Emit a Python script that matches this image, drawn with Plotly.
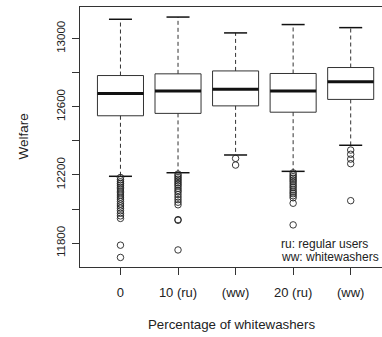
import plotly.graph_objects as go

# Welfare distribution per whitewasher scenario
categories = ["0", "10 (ru)", "(ww)", "20 (ru)", "(ww)"]
upper_whisker = [13113, 13126, 13033, 13082, 13064]
q3 = [12783, 12793, 12810, 12795, 12830]
median = [12678, 12693, 12703, 12693, 12746]
q1 = [12547, 12561, 12605, 12568, 12643]
lower_whisker = [12192, 12213, 12317, 12221, 12374]

outliers = [
    [12185, 12172, 12160, 12150, 12140, 12128, 12118, 12105, 12095, 12082,
     12070, 12058, 12045, 12030, 12018, 12005, 11990, 11975, 11960, 11945,
     11788, 11716],
    [12205, 12195, 12185, 12175, 12165, 12155, 12145, 12135, 12122, 12110,
     12100, 12085, 12070, 12055, 12040, 12025, 11938, 11934, 11760],
    [12297, 12258],
    [12212, 12200, 12190, 12180, 12170, 12160, 12148, 12136, 12125, 12112,
     12100, 12090, 12078, 12066, 12034, 11907],
    [12346, 12321, 12293, 12266, 12049],
]

y_ticks = [11800, 12000, 12200, 12400, 12600, 12800, 13000]
y_tick_text = ["11800", "", "12200", "", "12600", "", "13000"]

BOX_W = 0.8
CAP_W = 0.4
pos = list(range(1, len(categories) + 1))

box_x, box_y = [], []
med_x, med_y = [], []
wh_x, wh_y = [], []
cap_x, cap_y = [], []
out_x, out_y = [], []
for i, p in enumerate(pos):
    l, r = p - BOX_W / 2, p + BOX_W / 2
    box_x += [l, r, r, l, l, None]
    box_y += [q1[i], q1[i], q3[i], q3[i], q1[i], None]
    med_x += [l, r, None]
    med_y += [median[i], median[i], None]
    wh_x += [p, p, None, p, p, None]
    wh_y += [q3[i], upper_whisker[i], None, q1[i], lower_whisker[i], None]
    cl, cr = p - CAP_W / 2, p + CAP_W / 2
    cap_x += [cl, cr, None, cl, cr, None]
    cap_y += [upper_whisker[i], upper_whisker[i], None,
              lower_whisker[i], lower_whisker[i], None]
    out_x += [p] * len(outliers[i])
    out_y += outliers[i]

fig = go.Figure()
fig.add_trace(go.Scatter(x=wh_x, y=wh_y, mode="lines",
                         line=dict(color="#333", width=1, dash="4px,3px")))
fig.add_trace(go.Scatter(x=cap_x, y=cap_y, mode="lines",
                         line=dict(color="#111", width=1.5)))
fig.add_trace(go.Scatter(x=box_x, y=box_y, mode="lines",
                         line=dict(color="#333", width=1)))
fig.add_trace(go.Scatter(x=med_x, y=med_y, mode="lines",
                         line=dict(color="#111", width=3)))
fig.add_trace(go.Scatter(x=out_x, y=out_y, mode="markers",
                         marker=dict(symbol="circle-open", size=6.5,
                                     color="#222", line=dict(width=0.9))))

font_family = "Liberation Sans, Arial, Helvetica, sans-serif"

fig.update_layout(
    width=382, height=337,
    margin=dict(l=80, r=0, t=7, b=70),
    paper_bgcolor="white", plot_bgcolor="white",
    showlegend=False,
    font=dict(family=font_family, color="#222", size=13),
    xaxis=dict(
        range=[0.297, 5.544], tickvals=pos, ticktext=categories,
        showgrid=False, zeroline=False,
        showline=True, linecolor="#333", linewidth=1, mirror=True,
        ticks="outside", ticklen=7, tickcolor="#333",
        tickfont=dict(size=13), ticklabelstandoff=6,
    ),
    yaxis=dict(
        range=[11660, 13185], tickvals=y_ticks, ticktext=y_tick_text,
        showgrid=False, zeroline=False,
        showline=True, linecolor="#333", linewidth=1,
        ticks="outside", ticklen=7, tickcolor="#333",
        tickangle=-90, tickfont=dict(size=11.5), ticklabelstandoff=2,
    ),
    annotations=[
        dict(text="Welfare", xref="paper", yref="paper",
             x=-0.19, y=0.5, xanchor="center", yanchor="middle",
             textangle=-90, showarrow=False, font=dict(size=13.5)),
        dict(text="Percentage of whitewashers", xref="paper", yref="paper",
             x=0.5, y=-0.222, xanchor="center", yanchor="middle",
             showarrow=False, font=dict(size=13.3)),
        dict(text="ru: regular users", xref="x", yref="y",
             x=3.753, y=11796, xanchor="left", yanchor="middle",
             showarrow=False, font=dict(size=12)),
        dict(text="ww: whitewashers", xref="x", yref="y",
             x=3.753, y=11720, xanchor="left", yanchor="middle",
             showarrow=False, font=dict(size=12)),
    ],
)

fig.write_html("out.html")
